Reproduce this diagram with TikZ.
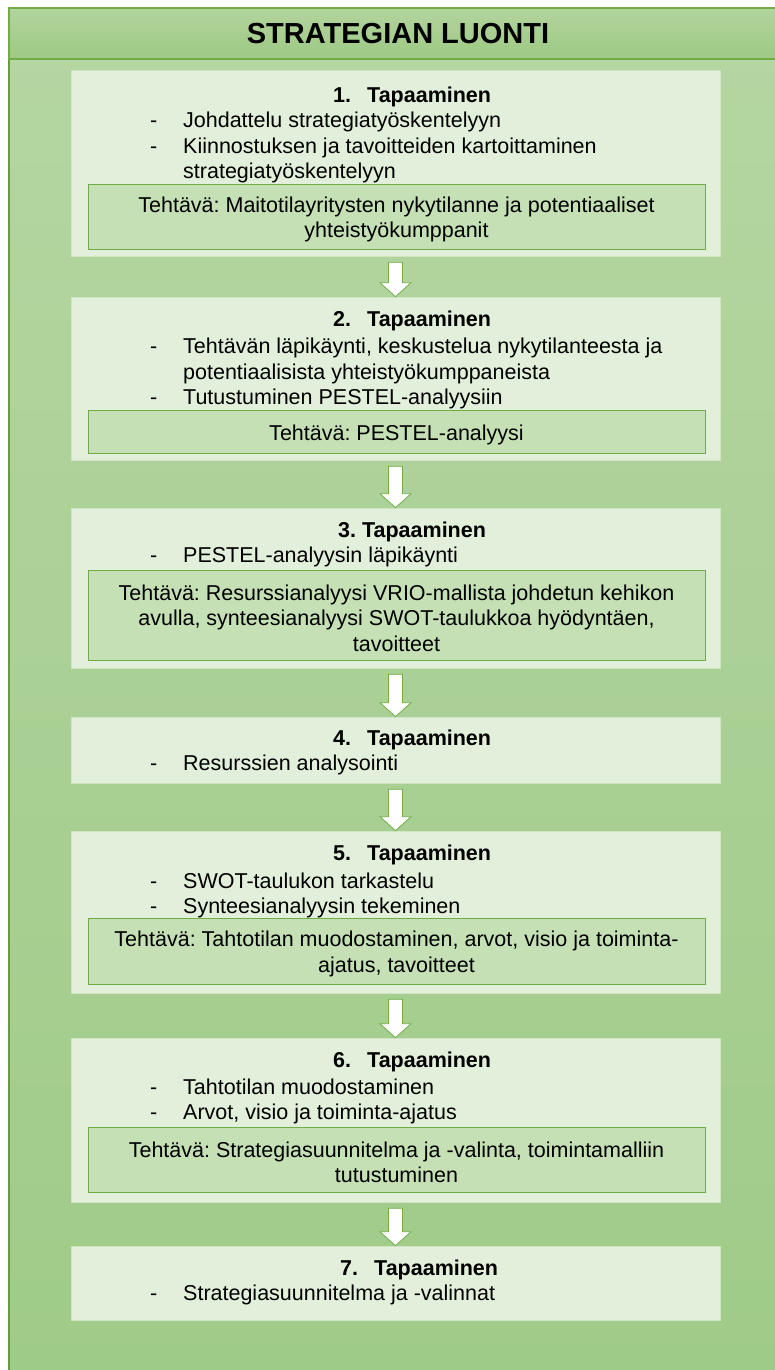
\documentclass[tikz,border=0pt]{standalone}
\usepackage{fontspec}
\setmainfont{Liberation Sans}
\usetikzlibrary{calc,positioning}
\frenchspacing

\definecolor{leafdark}{HTML}{70AD47}
\definecolor{paneltop}{HTML}{B5D6A2}
\definecolor{panelbot}{HTML}{9FCB88}
\definecolor{headtop}{HTML}{B2D49D}
\definecolor{headbot}{HTML}{9DC984}
\definecolor{boxbg}{HTML}{E2EFDA}
\definecolor{taskbg}{HTML}{C5E0B4}

\newcommand{\flowarrow}[2]{%
  \draw[flow arrow] let \p1=(#1.south), \p2=(#2.north) in
    (\x1-7pt,\y1-6pt) -- (\x1+7pt,\y1-6pt) -- (\x1+7pt,\y2+14pt) -- (\x1+15.5pt,\y2+14pt)
    -- (\x1,\y2) -- (\x1-15.5pt,\y2+14pt) -- (\x1-7pt,\y2+14pt) -- cycle;}

\begin{document}
\begin{tikzpicture}[x=1pt,y=-1pt,
  meet box/.style={fill=boxbg,draw=boxbg!85!leafdark,line width=0.6pt,minimum width=649pt,inner sep=0pt},
  task box/.style={fill=taskbg,draw=leafdark,line width=1pt,minimum width=617pt,inner sep=0pt},
  meet title/.style={anchor=base west,inner sep=0pt,font=\bfseries\fontsize{21.5}{25}\selectfont},
  point/.style={anchor=base west,inner sep=0pt,font=\fontsize{21.5}{25}\selectfont},
  task text/.style={align=center,inner sep=0pt,yshift=-3pt,font=\fontsize{21.5}{25.5}\selectfont},
  flow arrow/.style={fill=white,draw=leafdark,line width=0.8pt}]

  \useasboundingbox (0,0) rectangle (774,1370);

  % background panel and heading
  \node[draw=leafdark!90!black,line width=1.2pt,top color=paneltop,bottom color=panelbot,
        minimum width=768pt,minimum height=1364pt,inner sep=0pt] (panel) at (393,690) {};
  \node[draw=leafdark,line width=1.5pt,top color=headtop,bottom color=headbot,
        minimum width=768pt,minimum height=51pt,inner sep=0pt] (head) at (393,33.5) {};
  \node[font=\bfseries\fontsize{29}{33}\selectfont,inner sep=0pt] (head text) at (398,34) {STRATEGIAN LUONTI};

  % meetings
  \node[meet box,minimum height=186pt] (m1) at (395.5,163) {};
  \node[meet box,minimum height=163pt] (m2) at (395.5,378.5) {};
  \node[meet box,minimum height=160pt] (m3) at (395.5,588) {};
  \node[meet box,minimum height=66pt]  (m4) at (395.5,750) {};
  \node[meet box,minimum height=162pt] (m5) at (395.5,912) {};
  \node[meet box,minimum height=164pt] (m6) at (395.5,1120) {};
  \node[meet box,minimum height=74pt]  (m7) at (395.5,1283) {};

  % tasks
  \node[task box,minimum height=65pt] (t1) at (396.5,216.5) {};
  \node[task box,minimum height=43pt] (t2) at (396.5,431.5) {};
  \node[task box,minimum height=90pt] (t3) at (396.5,615) {};
  \node[task box,minimum height=66pt] (t5) at (396.5,951) {};
  \node[task box,minimum height=65pt] (t6) at (396.5,1159.5) {};

  \node[task text] (t1 text) at (t1) {Tehtävä: Maitotilayritysten nykytilanne ja potentiaaliset\\yhteistyökumppanit};
  \node[task text] (t2 text) at (t2) {Tehtävä: PESTEL-analyysi};
  \node[task text] (t3 text) at (t3) {Tehtävä: Resurssianalyysi VRIO-mallista johdetun kehikon\\avulla, synteesianalyysi SWOT-taulukkoa hyödyntäen,\\tavoitteet};
  \node[task text] (t5 text) at (t5) {Tehtävä: Tahtotilan muodostaminen, arvot, visio ja toiminta-\\ajatus, tavoitteet};
  \node[task text] (t6 text) at (t6) {Tehtävä: Strategiasuunnitelma ja -valinta, toimintamalliin\\tutustuminen};

  % headings and points
  \node[meet title] (h1) at (333,102.5) {\makebox[34pt][l]{1.}Tapaaminen};
  \node[point] (p11) at (150,127.5) {\makebox[33pt][l]{-}Johdattelu strategiatyöskentelyyn};
  \node[point] (p12) at (150,153.5) {\makebox[33pt][l]{-}Kiinnostuksen ja tavoitteiden kartoittaminen};
  \node[point] (p13) at (183,178.5) {strategiatyöskentelyyn};

  \node[meet title] (h2) at (333,326.5) {\makebox[34pt][l]{2.}Tapaaminen};
  \node[point] (p21) at (150,353.5) {\makebox[33pt][l]{-}Tehtävän läpikäynti, keskustelua nykytilanteesta ja};
  \node[point] (p22) at (183,379.5) {potentiaalisista yhteistyökumppaneista};
  \node[point] (p23) at (150,404.5) {\makebox[33pt][l]{-}Tutustuminen PESTEL-analyysiin};

  \node[meet title] (h3) at (338,537.5) {3. Tapaaminen};
  \node[point] (p31) at (150,562.5) {\makebox[33pt][l]{-}PESTEL-analyysin läpikäynti};

  \node[meet title] (h4) at (333,745.5) {\makebox[34pt][l]{4.}Tapaaminen};
  \node[point] (p41) at (150,770.5) {\makebox[33pt][l]{-}Resurssien analysointi};

  \node[meet title] (h5) at (333,860.5) {\makebox[34pt][l]{5.}Tapaaminen};
  \node[point] (p51) at (150,888.5) {\makebox[33pt][l]{-}SWOT-taulukon tarkastelu};
  \node[point] (p52) at (150,913.5) {\makebox[33pt][l]{-}Synteesianalyysin tekeminen};

  \node[meet title] (h6) at (333,1067.5) {\makebox[34pt][l]{6.}Tapaaminen};
  \node[point] (p61) at (150,1094.5) {\makebox[33pt][l]{-}Tahtotilan muodostaminen};
  \node[point] (p62) at (150,1119.5) {\makebox[33pt][l]{-}Arvot, visio ja toiminta-ajatus};

  \node[meet title] (h7) at (340,1275.5) {\makebox[34pt][l]{7.}Tapaaminen};
  \node[point] (p71) at (150,1300.5) {\makebox[33pt][l]{-}Strategiasuunnitelma ja -valinnat};

  % arrows between meetings
  \foreach \a/\b in {m1/m2,m2/m3,m3/m4,m4/m5,m5/m6,m6/m7}
    \flowarrow{\a}{\b};
\end{tikzpicture}
\end{document}
